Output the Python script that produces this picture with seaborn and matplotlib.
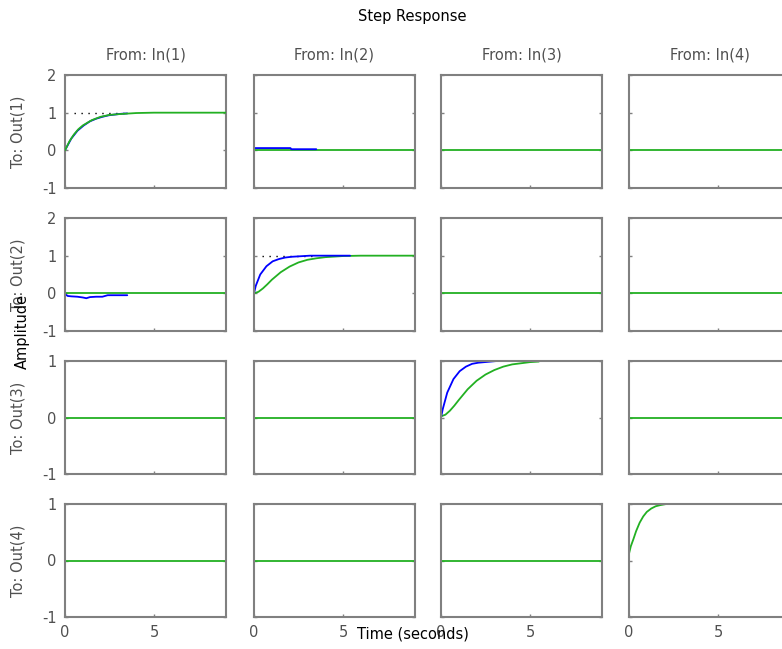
import seaborn as sns
import matplotlib.pyplot as plt

# --- data ---
inputs = ["From: In(1)", "From: In(2)", "From: In(3)", "From: In(4)"]
outputs = ["To: Out(1)", "To: Out(2)", "To: Out(3)", "To: Out(4)"]
x_ticks = [0, 5]
y_ticks_top = [-1, 0, 1, 2]
y_ticks_bottom = [-1, 0, 1]

# sampled (blue) responses
t_b11 = [0, 0.35, 0.7, 1.05, 1.4, 1.75, 2.1, 2.45, 2.8, 3.15, 3.5]
y_b11 = [0, 0.31, 0.52, 0.66, 0.77, 0.84, 0.89, 0.93, 0.95, 0.97, 0.98]
t_b12 = [0, 0.35, 0.7, 1.05, 1.4, 1.75, 2.05, 2.1, 2.45, 2.8, 3.15, 3.5]
y_b12 = [0.06, 0.06, 0.06, 0.06, 0.06, 0.06, 0.06, 0.03, 0.03, 0.03, 0.03, 0.03]
t_b21 = [0, 0.15, 0.35, 0.7, 1.0, 1.2, 1.4, 1.75, 2.1, 2.4, 2.8, 3.15, 3.5]
y_b21 = [-0.02, -0.07, -0.08, -0.09, -0.11, -0.13, -0.10, -0.09, -0.09, -0.05, -0.05, -0.05, -0.05]
t_b22 = [0, 0.1, 0.35, 0.7, 1.05, 1.4, 1.75, 2.1, 2.45, 2.8, 3.15, 3.5, 3.85, 4.2, 4.55, 4.9, 5.4]
y_b22 = [0, 0.2, 0.50, 0.72, 0.85, 0.91, 0.95, 0.97, 0.98, 0.99, 1.0, 1.0, 1.0, 1.0, 1.0, 1.0, 1.0]
t_b33 = [0, 0.1, 0.35, 0.7, 1.05, 1.4, 1.75, 2.1, 2.45, 2.8, 3.15, 3.5, 3.85, 4.25]
y_b33 = [0, 0.15, 0.44, 0.68, 0.82, 0.90, 0.95, 0.97, 0.98, 0.99, 1.0, 1.0, 1.0, 1.0]

# continuous (green) responses
t_g11 = [0, 0.25, 0.5, 0.75, 1, 1.5, 2, 2.5, 3, 4, 5, 6, 9.05]
y_g11 = [0, 0.24, 0.42, 0.56, 0.66, 0.80, 0.89, 0.94, 0.96, 0.99, 1.0, 1.0, 1.0]
t_g22 = [0, 0.25, 0.5, 0.75, 1, 1.5, 2, 2.5, 3, 3.5, 4, 5, 6, 9.05]
y_g22 = [0, 0.04, 0.13, 0.24, 0.36, 0.56, 0.71, 0.82, 0.89, 0.93, 0.96, 0.99, 1.0, 1.0]
t_g33 = [0, 0.25, 0.5, 0.75, 1, 1.5, 2, 2.5, 3, 3.5, 4, 4.5, 5, 5.5]
y_g33 = [0.02, 0.05, 0.12, 0.21, 0.31, 0.50, 0.65, 0.76, 0.84, 0.90, 0.94, 0.96, 0.98, 0.99]
t_g44 = [0, 0.1, 0.25, 0.4, 0.6, 0.8, 1.0, 1.25, 1.5, 1.75, 2.1]
y_g44 = [0.12, 0.25, 0.38, 0.52, 0.67, 0.78, 0.86, 0.92, 0.96, 0.98, 1.0]
t_zero = [0, 9.05]
y_zero = [0, 0]

# steady-state dotted guides
t_ss11 = [0.5, 3.4]
t_ss22 = [0.45, 3.4]
y_ss = [1, 1]

blue_resp = {(0, 0): (t_b11, y_b11), (0, 1): (t_b12, y_b12),
             (1, 0): (t_b21, y_b21), (1, 1): (t_b22, y_b22),
             (2, 2): (t_b33, y_b33)}
green_resp = {(0, 0): (t_g11, y_g11), (1, 1): (t_g22, y_g22),
              (2, 2): (t_g33, y_g33), (3, 3): (t_g44, y_g44)}
guides = {(0, 0): t_ss11, (1, 1): t_ss22}

sns.set_style("white")
plt.rcParams['font.family'] = ['DejaVu Sans']
plt.rcParams['axes.unicode_minus'] = False

W, H = 782, 649
fig = plt.figure(figsize=(W / 100, H / 100), dpi=100)

col_left = [65, 254, 441, 629]
col_w = 161
row_top = [75, 218, 361, 504]
row_h = 113

grey = '#808080'
txt_grey = '#505050'

for i in range(4):
    for j in range(4):
        ax = fig.add_axes([col_left[j] / W, 1 - (row_top[i] + row_h) / H,
                           col_w / W, row_h / H])
        if (i, j) in green_resp:
            tg, yg = green_resp[(i, j)]
        else:
            tg, yg = t_zero, y_zero
        if (i, j) in guides:
            ax.plot(guides[(i, j)], y_ss, color='black', lw=1.0,
                    linestyle=(0, (1, 4)))
        # in the first panel the green curve sits on top of the blue one
        green_z = 3 if (i, j) == (0, 0) else 2
        sns.lineplot(x=tg, y=yg, ax=ax, color='#22b022', linewidth=1.3,
                     sort=False, zorder=green_z)
        if (i, j) in blue_resp:
            tb, yb = blue_resp[(i, j)]
            sns.lineplot(x=tb, y=yb, ax=ax, color='#0000ff', linewidth=1.3,
                         sort=False, zorder=2.5)

        ax.set_xlim(0, 9.05)
        if i < 2:
            ax.set_ylim(-1, 2)
            ax.set_yticks(y_ticks_top)
        else:
            ax.set_ylim(-1, 1)
            ax.set_yticks(y_ticks_bottom)
        ax.set_xticks(x_ticks)
        for spine in ax.spines.values():
            spine.set_color(grey)
            spine.set_linewidth(1.5)
        ax.tick_params(direction='in', length=2, width=1, color=grey,
                       right=True, left=True, bottom=True,
                       labelsize=10.5, labelcolor=txt_grey, pad=6)
        if j != 0:
            ax.set_yticklabels([])
        if i != 3:
            ax.set_xticklabels([])
        ax.set_xlabel('')
        ax.set_ylabel('')
        if i == 0:
            ax.set_title(inputs[j], fontsize=10.5, color=txt_grey, pad=11)

# row labels at a fixed x, like the reference
for i in range(4):
    fig.text(18 / W, 1 - (row_top[i] + row_h / 2) / H, outputs[i],
             ha='center', va='center', rotation='vertical',
             fontsize=10.5, color=txt_grey)

fig.text(412 / W, 1 - 17 / H, 'Step Response', ha='center', va='center',
         fontsize=10.5, color='black')
fig.text(413 / W, 1 - 634 / H, 'Time (seconds)', ha='center', va='center',
         fontsize=10.5, color='black')
fig.text(22 / W, 1 - 331 / H, 'Amplitude', ha='center', va='center',
         rotation='vertical', fontsize=10.5, color='black')

fig.savefig('out.png', dpi=100)
